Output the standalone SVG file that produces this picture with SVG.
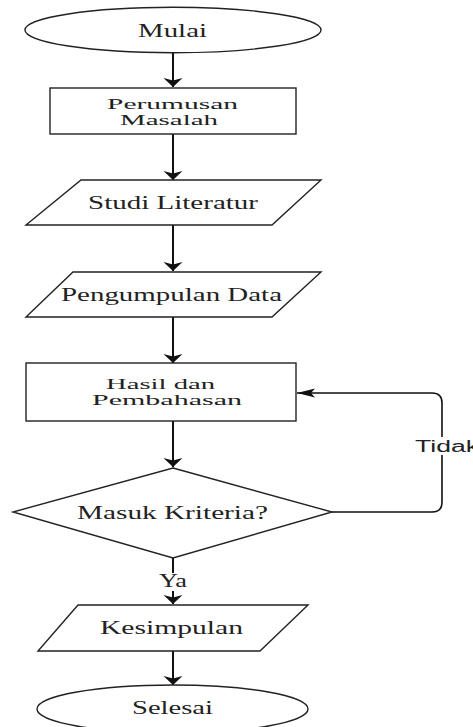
<svg xmlns="http://www.w3.org/2000/svg" width="473" height="727" viewBox="0 0 473 727">
<style>
.shape{fill:#fff;stroke:#222;stroke-width:1.4}
.t{font-family:"Liberation Serif","Times New Roman",serif;font-size:18px;fill:#222;text-anchor:middle}
.t2{font-size:14px}
.s{font-family:"Liberation Sans",Arial,sans-serif;font-size:16px;fill:#222}
.c{fill:none;stroke:#111;stroke-width:2}
.loop{fill:none;stroke:#111;stroke-width:1.6}
</style>
<defs>
<marker id="av" markerUnits="userSpaceOnUse" markerWidth="12" markerHeight="22" viewBox="0 -11 10 22" refX="9" refY="0" orient="auto">
<path d="M0,-9.5 L9,0 L0,9.5 L2.5,0 Z" fill="#111"/>
</marker>
<marker id="ah" markerUnits="userSpaceOnUse" markerWidth="20" markerHeight="12" viewBox="0 -6 19 12" refX="18" refY="0" orient="auto">
<path d="M0,-4.5 L18,0 L0,4.5 L4,0 Z" fill="#111"/>
</marker>
</defs>
<rect width="473" height="727" fill="#fff"/>
<g id="connectors">
<path class="c" d="M173,53 L173,87" marker-end="url(#av)"/>
<path class="c" d="M173,134 L173,180" marker-end="url(#av)"/>
<path class="c" d="M173,225 L173,271" marker-end="url(#av)"/>
<path class="c" d="M173,317 L173,363" marker-end="url(#av)"/>
<path class="c" d="M173,421 L173,467" marker-end="url(#av)"/>
<path class="c" d="M173,558 L173,604" marker-end="url(#av)"/>
<path class="c" d="M173,651 L173,685" marker-end="url(#av)"/>
<path class="loop" d="M332,512 L432,512 Q442,512 442,502 L442,403 Q442,393 432,393 L297,393" marker-end="url(#ah)"/>
<rect x="161" y="573" width="24" height="18" fill="#fff"/>
<text class="t" x="173" y="587" textLength="28" lengthAdjust="spacingAndGlyphs">Ya</text>
<rect x="414" y="437" width="62" height="18" fill="#fff"/>
<text class="s" x="415" y="452" textLength="64" lengthAdjust="spacingAndGlyphs">Tidak</text>
</g>
<g id="mulai">
<ellipse class="shape" cx="173" cy="30" rx="148" ry="22.7"/>
<text class="t" x="172.5" y="37" textLength="69" lengthAdjust="spacingAndGlyphs">Mulai</text>
</g>
<g id="perumusan">
<rect class="shape" x="50" y="88" width="246" height="46"/>
<text class="t t2" x="172.5" y="109" textLength="131" lengthAdjust="spacingAndGlyphs">Perumusan</text>
<text class="t t2" x="169" y="125" textLength="98" lengthAdjust="spacingAndGlyphs">Masalah</text>
</g>
<g id="studi">
<polygon class="shape" points="81,180 321,180 272,225 26,225"/>
<text class="t" x="173" y="209" textLength="170" lengthAdjust="spacingAndGlyphs">Studi Literatur</text>
</g>
<g id="pengumpulan">
<polygon class="shape" points="73,272 321,272 272,317 26,317"/>
<text class="t" x="171.5" y="301" textLength="221" lengthAdjust="spacingAndGlyphs">Pengumpulan Data</text>
</g>
<g id="hasil">
<rect class="shape" x="26" y="363" width="270" height="58"/>
<text class="t t2" x="160.5" y="389" textLength="109" lengthAdjust="spacingAndGlyphs">Hasil dan</text>
<text class="t t2" x="167" y="405" textLength="150" lengthAdjust="spacingAndGlyphs">Pembahasan</text>
</g>
<g id="kriteria">
<polygon class="shape" points="173,468 332,512 173,558 13,512"/>
<text class="t" x="172.5" y="519" textLength="191" lengthAdjust="spacingAndGlyphs">Masuk Kriteria?</text>
</g>
<g id="kesimpulan">
<polygon class="shape" points="78,605 308,605 260,651 38,651"/>
<text class="t" x="171.5" y="634" textLength="143" lengthAdjust="spacingAndGlyphs">Kesimpulan</text>
</g>
<g id="selesai">
<ellipse class="shape" cx="172.5" cy="709" rx="135.5" ry="24"/>
<text class="t" x="172.5" y="714" textLength="81" lengthAdjust="spacingAndGlyphs">Selesai</text>
</g>
</svg>
